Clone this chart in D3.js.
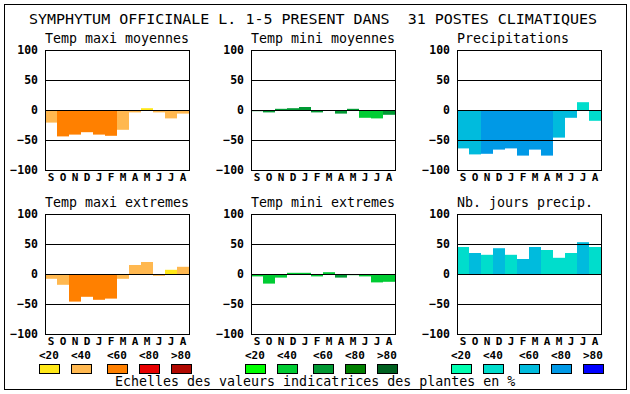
<!DOCTYPE html>
<html><head><meta charset="utf-8">
<script src="https://cdn.jsdelivr.net/npm/d3@7"></script>
<style>
body{margin:0;background:#fff;}
svg{display:block;}
text{font-family:"DejaVu Sans Mono",monospace;fill:#000;white-space:pre;}
</style></head>
<body>
<svg id="c" width="630" height="394"></svg>
<script>
const months = ["S","O","N","D","J","F","M","A","M","J","J","A"];
const yTicks = [100, 50, 0, -50, -100];
const gridValues = [50, 0, -50];
const legendLabels = ["<20","<40","<60","<80",">80"];
const mainTitle = "SYMPHYTUM OFFICINALE L. 1-5 PRESENT DANS \u00a031 POSTES CLIMATIQUES";
const footer = "Echelles des valeurs indicatrices des plantes en %";

const paletteTemp = ["#ffe818","#ffb850","#ff8000","#e80000","#b00800"];
const paletteMini = ["#00ff00","#00cc33","#009933","#008000","#006020"];
const palettePrec = ["#00ffb0","#00ddcc","#00bbdd","#0099e6","#0000ff"];

const titles = ["Temp maxi moyennes","Temp mini moyennes","Precipitations",
                "Temp maxi extremes","Temp mini extremes","Nb. jours precip."];

const tmaxMoyValues = [-21,-44,-41,-37,-41,-43,-33,-4,3,-4,-14,-6];
const tmaxMoyClass  = [1,2,2,2,2,2,1,1,0,1,1,1];
const tminMoyValues = [-2,-4,2,3,5,-4,0,-6,2,-13,-14,-8];
const tminMoyClass  = [2,2,2,2,2,2,2,2,2,1,1,2];
const precValues    = [-64,-74,-73,-66,-64,-76,-66,-76,-46,-13,13,-18];
const precClass     = [2,2,3,3,3,3,3,3,2,2,1,1];
const tmaxExtValues = [-8,-18,-46,-38,-43,-41,-8,15,20,-3,7,12];
const tmaxExtClass  = [1,1,2,2,2,2,1,1,1,1,0,1];
const tminExtValues = [-4,-16,-6,2,2,-4,3,-6,-2,-4,-14,-13];
const tminExtClass  = [1,1,1,1,1,1,1,2,1,1,1,1];
const joursValues   = [45,35,32,43,32,25,45,40,27,35,53,45];
const joursClass    = [1,2,1,2,1,2,2,1,1,1,2,1];

const panels = [
  {title:titles[0], values:tmaxMoyValues, cls:tmaxMoyClass, pal:paletteTemp, col:0, row:0},
  {title:titles[1], values:tminMoyValues, cls:tminMoyClass, pal:paletteMini, col:1, row:0},
  {title:titles[2], values:precValues,    cls:precClass,    pal:palettePrec, col:2, row:0},
  {title:titles[3], values:tmaxExtValues, cls:tmaxExtClass, pal:paletteTemp, col:0, row:1},
  {title:titles[4], values:tminExtValues, cls:tminExtClass, pal:paletteMini, col:1, row:1},
  {title:titles[5], values:joursValues,   cls:joursClass,   pal:palettePrec, col:2, row:1}
];
const legendPalettes = [paletteTemp, paletteMini, palettePrec];

const svg = d3.select("#c");
const colX = [45, 251, 457], rowY = [50, 214], PW = 144, PH = 120;

svg.append("rect").attr("x",4.5).attr("y",4.5).attr("width",622).attr("height",385)
  .attr("fill","none").attr("stroke","#000").attr("stroke-width",1);

svg.append("text").attr("x",29).attr("y",24).attr("font-size",14.5)
  .attr("textLength",568).attr("lengthAdjust","spacingAndGlyphs").text(mainTitle);

panels.forEach(p => {
  const x0 = colX[p.col], y0 = rowY[p.row];
  const x = d3.scaleBand().domain(d3.range(12)).range([x0, x0+PW]).padding(0);
  const y = d3.scaleLinear().domain([-100,100]).range([y0+PH, y0]);
  const g = svg.append("g");
  g.append("text").attr("x",x0).attr("y",y0-7.5).attr("font-size",13.3).text(p.title);
  g.selectAll("rect.bar").data(p.values).enter().append("rect")
    .attr("x",(d,i)=>x(i)).attr("width",x.bandwidth())
    .attr("y",d=>y(Math.max(0,d))).attr("height",d=>Math.abs(y(d)-y(0)))
    .attr("fill",(d,i)=>p.pal[p.cls[i]]);
  g.selectAll("line.grid").data(gridValues).enter().append("line")
    .attr("x1",x0).attr("x2",x0+PW).attr("y1",d=>Math.round(y(d))+0.5).attr("y2",d=>Math.round(y(d))+0.5)
    .attr("stroke","#000").attr("stroke-width",1);
  g.append("rect").attr("x",x0+0.5).attr("y",y0+0.5).attr("width",PW).attr("height",PH)
    .attr("fill","none").attr("stroke","#000").attr("stroke-width",1);
  const yAxis = d3.axisLeft(y).tickValues(yTicks).tickSize(0).tickPadding(7);
  const ya = g.append("g").attr("transform",`translate(${x0},0)`).call(yAxis);
  ya.select(".domain").remove();
  ya.selectAll("text").attr("font-size",11.5).attr("font-weight","bold")
    .attr("font-family","DejaVu Sans Mono").attr("fill","#000");
  const xAxis = d3.axisBottom(x).tickFormat(i=>months[i]).tickSize(0);
  const xa = g.append("g").attr("transform",`translate(0,${y0+PH})`).call(xAxis);
  xa.select(".domain").remove();
  xa.selectAll("text").attr("font-size",11).attr("font-weight","bold")
    .attr("font-family","DejaVu Sans Mono").attr("fill","#000")
    .attr("y",11).attr("dy",0);
});

const legOff = [-6, 26, 62, 94, 126];
legendPalettes.forEach((pal, gi) => {
  const x0 = colX[gi];
  legendLabels.forEach((lab, i) => {
    svg.append("text").attr("x",x0+legOff[i]).attr("y",358.5).attr("font-size",11)
      .attr("font-weight","bold").text(lab);
    svg.append("rect").attr("x",x0+legOff[i]+0.5).attr("y",364.5).attr("width",20).attr("height",9)
      .attr("fill",pal[i]).attr("stroke","#000").attr("stroke-width",1);
  });
});

svg.append("text").attr("x",115).attr("y",386).attr("font-size",13.3).text(footer);
</script>
</body></html>
